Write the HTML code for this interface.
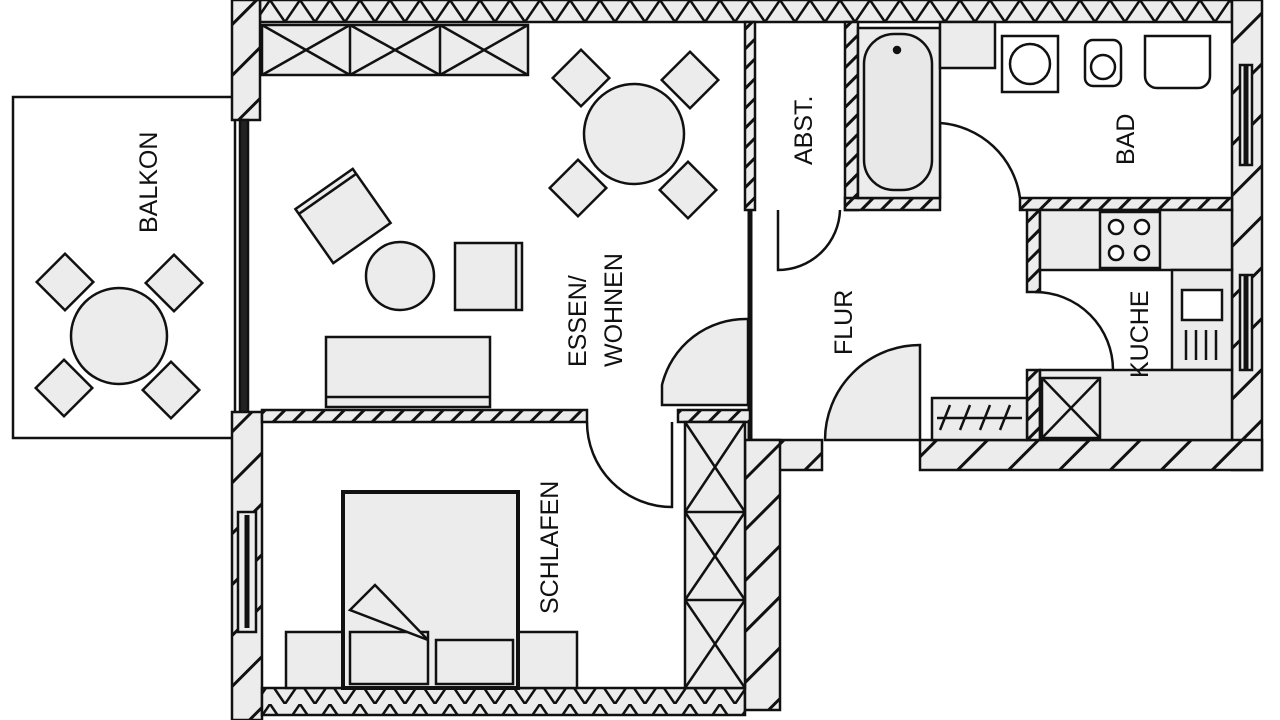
<!DOCTYPE html>
<html><head><meta charset="utf-8"><style>
html,body{margin:0;padding:0;background:#fff;width:1280px;height:720px;overflow:hidden}
svg text{font-family:"Liberation Sans",sans-serif;font-size:25px;fill:#111}
</style></head><body>
<svg width="1280" height="720" viewBox="0 0 1280 720" xmlns="http://www.w3.org/2000/svg">
<defs>
<pattern id="h" width="14" height="14" patternUnits="userSpaceOnUse" patternTransform="rotate(45)">
<rect width="14" height="14" fill="#ececec"/><rect width="3" height="14" fill="#111"/></pattern>
<pattern id="hb" width="36" height="36" patternUnits="userSpaceOnUse" patternTransform="rotate(45)">
<rect width="36" height="36" fill="#ececec"/><rect width="3" height="36" fill="#111"/></pattern>
<pattern id="x" width="30" height="22" patternUnits="userSpaceOnUse">
<rect width="30" height="22" fill="#ececec"/><path d="M0 0L15 22L30 0" fill="none" stroke="#111" stroke-width="2.5"/></pattern>
</defs>
<g stroke="#111" stroke-width="2.5" fill="#ececec">
<!-- balcony -->
<rect x="13" y="97" width="222" height="341" fill="#fff"/>
<circle cx="119" cy="336" r="48"/>
<g transform="translate(65,282) rotate(45)"><rect x="-20" y="-20" width="40" height="40"/></g>
<g transform="translate(174,283) rotate(45)"><rect x="-20" y="-20" width="40" height="40"/></g>
<g transform="translate(64,388) rotate(45)"><rect x="-20" y="-20" width="40" height="40"/></g>
<g transform="translate(171,390) rotate(45)"><rect x="-20" y="-20" width="40" height="40"/></g>
<!-- interior whites -->
<rect x="260" y="22" width="490" height="390" fill="#fff" stroke="none"/>
<rect x="260" y="420" width="430" height="270" fill="#fff" stroke="none"/>
<rect x="750" y="22" width="484" height="420" fill="#fff" stroke="none"/>
<!-- outer walls -->
<rect x="260" y="0" width="972" height="22" fill="url(#x)"/>
<rect x="232" y="0" width="28" height="120" fill="url(#hb)"/>
<rect x="240" y="120" width="8" height="292" fill="#222"/>
<rect x="1232" y="0" width="30" height="470" fill="url(#hb)"/>
<rect x="1240" y="65" width="12" height="100" fill="#eee"/><line x1="1246" y1="65" x2="1246" y2="165" stroke-width="5"/>
<rect x="1240" y="275" width="12" height="95" fill="#eee"/><line x1="1246" y1="275" x2="1246" y2="370" stroke-width="5"/>
<rect x="920" y="440" width="342" height="30" fill="url(#hb)"/>
<rect x="750" y="440" width="72" height="30" fill="url(#hb)"/>
<rect x="232" y="412" width="30" height="308" fill="url(#hb)"/>
<rect x="238" y="512" width="18" height="120" fill="#eee"/><line x1="247" y1="515" x2="247" y2="628" stroke-width="5"/>
<rect x="262" y="688" width="483" height="27" fill="url(#x)"/>
<rect x="745" y="440" width="35" height="270" fill="url(#hb)"/>
<!-- interior walls -->
<rect x="262" y="410" width="325" height="12" fill="url(#h)"/>
<rect x="745" y="22" width="10" height="188" fill="url(#h)"/>
<line x1="750" y1="210" x2="750" y2="440" stroke-width="5"/>
<rect x="845" y="22" width="13" height="188" fill="url(#h)"/>
<rect x="845" y="198" width="95" height="12" fill="url(#h)"/>
<rect x="1020" y="198" width="212" height="12" fill="url(#h)"/>
<rect x="1027" y="210" width="13" height="82" fill="url(#h)"/>
<rect x="1027" y="370" width="13" height="70" fill="url(#h)"/>
<rect x="678" y="410" width="72" height="12" fill="url(#h)"/>
<!-- living -->
<rect x="262" y="25" width="266" height="50"/>
<path d="M262 25L350 75M350 25L262 75M350 25L350 75M350 25L440 75M440 25L350 75M440 25L440 75M440 25L528 75M528 25L440 75" fill="none"/>
<circle cx="634" cy="134" r="50"/>
<g transform="translate(581,78) rotate(45)"><rect x="-20" y="-20" width="40" height="40"/></g>
<g transform="translate(690,80) rotate(45)"><rect x="-20" y="-20" width="40" height="40"/></g>
<g transform="translate(578,188) rotate(45)"><rect x="-20" y="-20" width="40" height="40"/></g>
<g transform="translate(688,190) rotate(45)"><rect x="-20" y="-20" width="40" height="40"/></g>
<g transform="translate(343,216) rotate(-35)"><rect x="-35" y="-33" width="70" height="66"/><line x1="-35" y1="-27" x2="35" y2="-27"/></g>
<circle cx="400" cy="276" r="34"/>
<rect x="455" y="243" width="67" height="67"/><line x1="516" y1="243" x2="516" y2="310"/>
<rect x="326" y="337" width="164" height="70"/><line x1="326" y1="397" x2="490" y2="397"/>
<path d="M662 405L662 385A86 86 0 0 1 748 319L748 405Z" fill="#ececec"/>
<!-- bedroom -->
<path d="M587 422A85 85 0 0 0 672 507L672 422" fill="none"/>
<rect x="685" y="422" width="60" height="266"/>
<path d="M685 422L745 512M745 422L685 512M685 512L745 600M745 512L685 600M685 600L745 688M745 600L685 688M685 512L745 512M685 600L745 600" fill="none"/>
<rect x="286" y="632" width="57" height="56"/><rect x="518" y="632" width="59" height="56"/>
<rect x="343" y="492" width="175" height="196" stroke-width="4"/>
<rect x="350" y="632" width="78" height="52"/><rect x="436" y="640" width="77" height="44"/>
<path d="M350 610L375 585L428 640Z M350 610L428 640" fill="#ececec"/>
<!-- flur -->
<path d="M778 210L778 270A62 62 0 0 0 840 210" fill="none"/>
<path d="M825 440A95 95 0 0 1 920 345L920 440Z" fill="#ececec"/>
<rect x="932" y="398" width="95" height="42"/>
<path d="M940 430l10-25M960 430l10-25M980 430l10-25M1000 430l10-25M937 418h85" fill="none"/>
<!-- bath -->
<path d="M940 123A87 87 0 0 1 1020 198" fill="none"/><line x1="940" y1="123" x2="940" y2="198"/>
<rect x="858" y="28" width="82" height="170"/>
<rect x="864" y="34" width="68" height="156" rx="30" fill="#e8e8e8"/>
<circle cx="897" cy="50" r="3" fill="#111"/>
<rect x="940" y="22" width="55" height="46"/>
<rect x="1002" y="36" width="56" height="56" fill="#fff"/><circle cx="1030" cy="64" r="20" fill="#fff"/>
<rect x="1085" y="40" width="36" height="46" rx="8" fill="#fff"/><circle cx="1103" cy="67" r="12" fill="#fff"/>
<path d="M1145 36h65v40a12 12 0 0 1-12 12h-41a12 12 0 0 1-12-12z" fill="#fff"/>
<!-- kitchen -->
<rect x="1040" y="210" width="192" height="60"/>
<rect x="1100" y="212" width="60" height="56"/>
<circle cx="1116" cy="227" r="7" fill="#fff"/><circle cx="1142" cy="227" r="7" fill="#fff"/>
<circle cx="1116" cy="253" r="7" fill="#fff"/><circle cx="1142" cy="253" r="7" fill="#fff"/>
<rect x="1172" y="270" width="60" height="100"/>
<rect x="1182" y="290" width="40" height="30" fill="#fff"/>
<path d="M1186 330v30M1196 330v30M1206 330v30M1216 330v30" fill="none"/>
<rect x="1040" y="370" width="192" height="70"/>
<rect x="1042" y="378" width="58" height="60"/><path d="M1042 378L1100 438M1100 378L1042 438" fill="none"/>
<path d="M1035 292A78 78 0 0 1 1113 370" fill="none"/>
</g>
<g>
<text transform="translate(157,233) rotate(-90)">BALKON</text>
<text transform="translate(586,367) rotate(-90)">ESSEN/</text>
<text transform="translate(622,367) rotate(-90)">WOHNEN</text>
<text transform="translate(812,165) rotate(-90)">ABST.</text>
<text transform="translate(1134,165) rotate(-90)">BAD</text>
<text transform="translate(852,355) rotate(-90)">FLUR</text>
<text transform="translate(1148,378) rotate(-90)">KUCHE</text>
<text transform="translate(558,614) rotate(-90)">SCHLAFEN</text>
</g>
</svg>
</body></html>
